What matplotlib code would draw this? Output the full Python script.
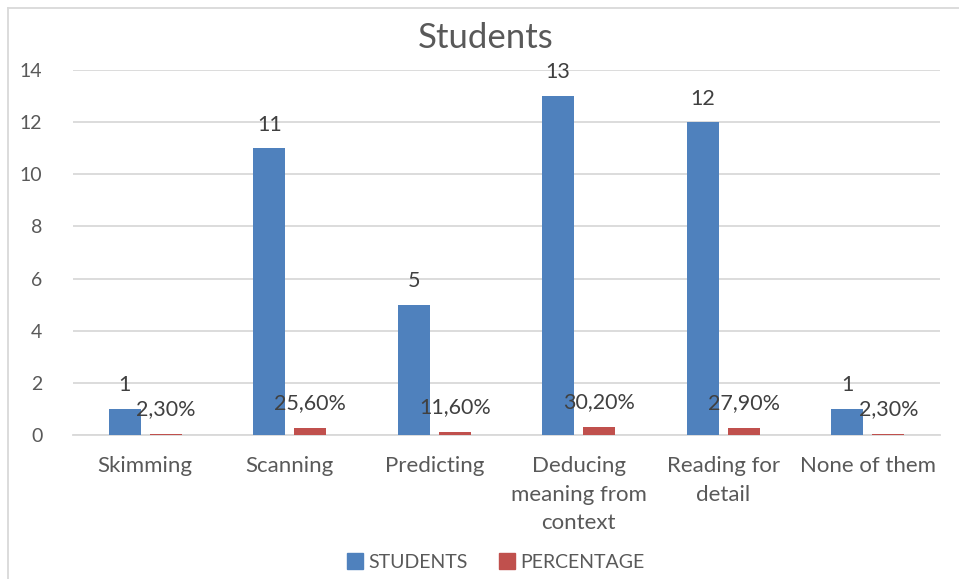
import matplotlib
matplotlib.use("Agg")
import matplotlib.pyplot as plt
from matplotlib.lines import Line2D
import numpy as np

categories = ["Skimming", "Scanning", "Predicting", "Deducing\nmeaning from\ncontext",
              "Reading for\ndetail", "None of them"]
students = [1, 11, 5, 13, 12, 1]
percentage = [0.023, 0.256, 0.116, 0.302, 0.279, 0.023]
percentage_labels = ["2,30%", "25,60%", "11,60%", "30,20%", "27,90%", "2,30%"]

BLUE, RED = "#4f81bd", "#c0504d"
INK, GRID = "#595959", "#d9d9d9"

plt.rcParams["font.family"] = ["Lato", "DejaVu Sans"]

fig = plt.figure(figsize=(9.59, 5.79), dpi=100)
W, H = 959, 579
ax = fig.add_axes([73 / W, 1 - 435 / H, (940 - 73) / W, (435 - 70) / H])

x = np.arange(len(categories))
w = 0.22
off = 0.142
b1 = ax.bar(x - off, students, width=w, color=BLUE, label="STUDENTS", zorder=3)
b2 = ax.bar(x + off, percentage, width=w, color=RED, label="PERCENTAGE", zorder=3)

for rect, v in zip(b1, students):
    ax.annotate(str(v), (rect.get_x() + rect.get_width() / 2, v), xytext=(0, 17),
                textcoords="offset points", ha="center", va="center",
                color="#404040", fontsize=15.5)
for rect, v, lbl in zip(b2, percentage, percentage_labels):
    ax.annotate(lbl, (rect.get_x() + rect.get_width() / 2, v), xytext=(0, 18),
                textcoords="offset points", ha="center", va="center",
                color="#404040", fontsize=15.5)

ax.set_xlim(-0.5, len(categories) - 0.5)
ax.set_ylim(0, 14)
ax.set_yticks(range(0, 15, 2))
ax.yaxis.grid(True, color=GRID, linewidth=1.3, zorder=0)
ax.set_axisbelow(True)
for side in ("top", "right", "left"):
    ax.spines[side].set_visible(False)
ax.spines["bottom"].set_color(GRID)
ax.spines["bottom"].set_linewidth(1.3)
ax.tick_params(axis="y", length=0, pad=22, labelsize=14, labelcolor=INK)
ax.tick_params(axis="x", length=0, pad=15, labelsize=16, labelcolor=INK)
ax.set_xticks(x)
ax.set_xticklabels(categories, va="top", linespacing=1.55)

fig.text(486 / W, 1 - 38 / H, "Students", ha="center", va="center",
         fontsize=25, color=INK)

handles = [Line2D([], [], marker="s", linestyle="", markersize=11, color=BLUE),
           Line2D([], [], marker="s", linestyle="", markersize=11, color=RED)]
fig.legend(handles, ["STUDENTS", "PERCENTAGE"], loc="center",
           bbox_to_anchor=(495 / W, 1 - 562 / H), ncol=2, frameon=False,
           fontsize=14, labelcolor=INK, handletextpad=0.2, columnspacing=1.5,
           handlelength=1.0)

# outer chart frame
fig.add_artist(Line2D([8 / W, 1.0], [1 - 8 / H, 1 - 8 / H], transform=fig.transFigure,
                      color=GRID, linewidth=1.3))
fig.add_artist(Line2D([8 / W, 8 / W], [0.0, 1 - 8 / H], transform=fig.transFigure,
                      color=GRID, linewidth=1.3))

fig.savefig("out.png", dpi=100, facecolor="white")
